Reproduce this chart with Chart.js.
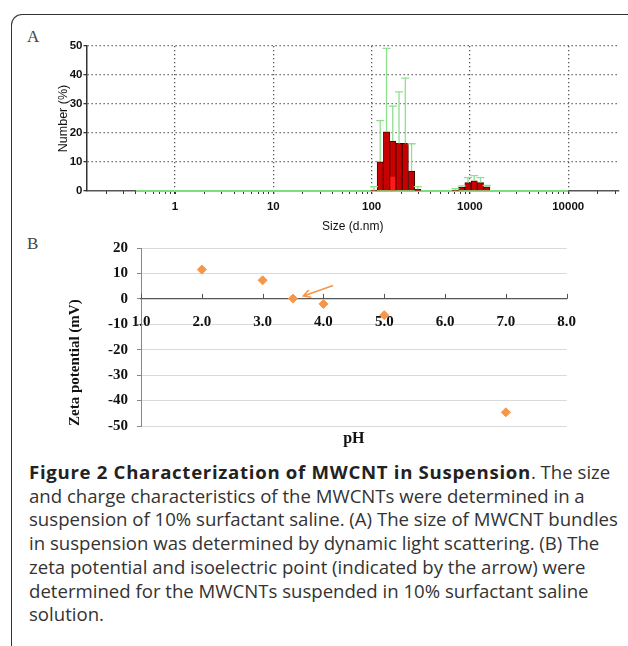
<!DOCTYPE html>
<html>
<head>
<meta charset="utf-8">
<script src="https://cdn.jsdelivr.net/npm/chart.js@4.4.1/dist/chart.umd.min.js"></script>
<style>
  body { margin: 0; background: #fff; width: 628px; height: 646px; overflow: hidden; position: relative; }
  .frame { position: absolute; left: 11px; top: 14px; width: 700px; height: 700px;
    border-top: 1.5px solid #333; border-left: 1.5px solid #333; border-top-left-radius: 11px; }
  .panel { position: absolute; left: 0; width: 628px; }
  #boxA { top: 0; height: 240px; }
  #boxB { top: 230px; height: 220px; }
  .tag { position: absolute; font-family: "Liberation Serif", serif; font-size: 17px; color: #444; }
  .caption { position: absolute; left: 29px; top: 460px; font-family: "Open Sans", sans-serif;
    font-size: 18.6px; line-height: 23.7px; color: #333; white-space: nowrap; }
  .caption b { color: #222; letter-spacing: 0.7px; }
</style>
</head>
<body>
<div class="frame"></div>
<div class="tag" style="left:27px; top:27px;">A</div>
<div class="tag" style="left:27px; top:234px;">B</div>
<div class="panel" id="boxA"><canvas id="chartA"></canvas></div>
<div class="panel" id="boxB"><canvas id="chartB"></canvas></div>
<div class="caption">
  <div><b>Figure 2 Characterization of MWCNT in Suspension</b>. The size</div>
  <div>and charge characteristics of the MWCNTs were determined in a</div>
  <div>suspension of 10% surfactant saline. (A) The size of MWCNT bundles</div>
  <div>in suspension was determined by dynamic light scattering. (B) The</div>
  <div>zeta potential and isoelectric point (indicated by the arrow) were</div>
  <div>determined for the MWCNTs suspended in 10% surfactant saline</div>
  <div>solution.</div>
</div>
<script>
// panel A - size distribution (DLS)
const sizeBins = [105.7, 122.4, 141.8, 164.2, 190.1, 220.2, 255.0, 295.3, 712.4, 825.0, 955.4, 1106, 1281, 1484];
const numberPct = [0.3, 10.1, 20.4, 17.2, 16.4, 16.4, 6.9, 0.6, 0.3, 1.3, 2.9, 3.5, 2.9, 1.4];
const numberErr = [1.5, 24.3, 49.2, 29.3, 34.2, 38.9, 16.3, 1.5, 0.8, 1.8, 4.6, 5.3, 4.6, 1.9];
const selectedBin = [164.2];
const selectedPct = [4.9];
const sizeRange = [0.4, 10000];
const sizeLabels = [1, 10, 100, 1000, 10000];

// panel B - zeta potential vs pH
const phValues = [2.0, 3.0, 3.5, 4.0, 5.0, 7.0];
const zetaMv = [11.5, 7.3, 0.1, -2.0, -6.4, -44.6];
const phTicks = [1, 2, 3, 4, 5, 6, 7, 8];
const zetaTicks = [-50, -40, -30, -20, -10, 0, 10, 20];
const iepArrow = [{ x: 4.16, y: 5.3 }, { x: 3.67, y: 1.1 }];

const sansFont = 'Arial, "Liberation Sans", sans-serif';
const serifFont = '"Times New Roman", "Liberation Serif", serif';
const sizeMin = 0.1258, sizeMax = 32870;

// minor tick marks 2..9 of each decade
const minorTicks = [];
for (let d = 0.1; d < 1e5; d *= 10) {
  for (let m = 1; m < 10; m++) {
    const v = +(d * m).toPrecision(3);
    if (v >= sizeMin && v <= sizeMax) minorTicks.push(v);
  }
}

const errorBars = {
  id: "errorBars",
  afterDatasetsDraw(chart) {
    const { ctx, scales: { x, y } } = chart;
    ctx.save();
    ctx.strokeStyle = "#8ee08e";
    ctx.lineWidth = 1.3;
    sizeBins.forEach((s, i) => {
      const px = x.getPixelForValue(s);
      const top = y.getPixelForValue(numberErr[i]);
      const base = y.getPixelForValue(numberPct[i]);
      ctx.beginPath();
      ctx.moveTo(px, base);
      ctx.lineTo(px, top);
      ctx.moveTo(px - 4, top);
      ctx.lineTo(px + 4, top);
      ctx.stroke();
    });
    ctx.restore();
  },
};

new Chart(document.getElementById("chartA"), {
  type: "bar",
  data: {
    datasets: [
      {
        data: selectedBin.map((s, i) => ({ x: s, y: selectedPct[i] })),
        backgroundColor: "#ff1a1a",
        borderWidth: 0,
        grouped: false,
        barPercentage: 0.8,
        categoryPercentage: 1,
        order: 1,
      },
      {
        data: sizeBins.map((s, i) => ({ x: s, y: numberPct[i] })),
        backgroundColor: "#c80000",
        borderColor: "#4a0000",
        borderWidth: 1,
        grouped: false,
        barPercentage: 1,
        categoryPercentage: 1,
        order: 2,
      },
      {
        type: "line",
        data: sizeRange.map((s) => ({ x: s, y: 0 })),
        borderColor: "#80dc80",
        borderWidth: 2,
        pointRadius: 0,
        clip: false,
        order: 3,
      },
    ],
  },
  options: {
    responsive: true,
    maintainAspectRatio: false,
    animation: false,
    layout: { padding: { top: 46, left: 53, right: 9, bottom: 0 } },
    plugins: { legend: { display: false }, tooltip: { enabled: false } },
    scales: {
      x: {
        type: "logarithmic",
        min: sizeMin,
        max: sizeMax,
        bounds: "data",
        offset: false,
        afterBuildTicks: (s) => { s.ticks = sizeLabels.map((v) => ({ value: v })); },
        afterFit: (s) => { s.height = 49; },
        ticks: {
          autoSkip: false,
          maxRotation: 0,
          padding: 6,
          color: "#111",
          font: { family: sansFont, size: 11.5, weight: "bold" },
          callback: (v) => String(v),
        },
        grid: { offset: false, color: "#555", lineWidth: 1.3, tickColor: "#333", tickLength: 3 },
        border: { color: "#555", width: 1.5, dash: [1.3, 2.7] },
        title: {
          display: true,
          text: "Size (d.nm)",
          color: "#111",
          font: { family: sansFont, size: 12 },
          padding: { top: 0, bottom: 6 },
        },
      },
      xMinor: {
        type: "logarithmic",
        min: sizeMin,
        max: sizeMax,
        bounds: "data",
        offset: false,
        position: { y: 0 },
        afterBuildTicks: (s) => { s.ticks = minorTicks.map((v) => ({ value: v })); },
        ticks: { display: false, autoSkip: false },
        grid: { offset: false, drawOnChartArea: false, tickColor: "#333", tickLength: 3 },
        border: { display: false },
      },
      y: {
        min: 0,
        max: 50,
        ticks: {
          stepSize: 5,
          padding: 1,
          color: "#111",
          font: { family: sansFont, size: 11.5, weight: "bold" },
          callback: (v) => (v % 10 === 0 ? v : ""),
        },
        afterFit: (s) => { s.width = 33.5; },
        grid: {
          color: (c) => (c.tick.value % 10 === 0 && c.tick.value > 0 ? "#555" : "rgba(0,0,0,0)"),
          lineWidth: 1.3,
          tickColor: "#333",
          tickLength: 3,
        },
        border: { color: "#333", width: 1.5, dash: [1.3, 2.7] },
        title: {
          display: true,
          text: "Number (%)",
          color: "#111",
          font: { family: sansFont, size: 12.5 },
          padding: { top: 3, bottom: 4 },
        },
      },
    },
  },
  plugins: [errorBars],
});

const phMarks = {
  id: "phMarks",
  afterDraw(chart) {
    const { ctx, scales: { x, x0, y } } = chart;
    const y0 = y.getPixelForValue(0);
    ctx.save();
    ctx.strokeStyle = "#555";
    ctx.lineWidth = 1;
    phTicks.forEach((t) => {
      const px = Math.round(x0.getPixelForValue(t)) + 0.5;
      ctx.beginPath();
      ctx.moveTo(px, y0);
      ctx.lineTo(px, y0 - 5);
      ctx.stroke();
    });
    // arrow pointing at the isoelectric point
    const [a, b] = iepArrow;
    const x1 = x.getPixelForValue(a.x), y1 = y.getPixelForValue(a.y);
    const x2 = x.getPixelForValue(b.x), y2 = y.getPixelForValue(b.y);
    const ang = Math.atan2(y2 - y1, x2 - x1);
    ctx.strokeStyle = "#f79646";
    ctx.lineWidth = 1.6;
    ctx.beginPath();
    ctx.moveTo(x1, y1);
    ctx.lineTo(x2, y2);
    ctx.moveTo(x2 - 8 * Math.cos(ang - 0.5), y2 - 8 * Math.sin(ang - 0.5));
    ctx.lineTo(x2, y2);
    ctx.lineTo(x2 - 8 * Math.cos(ang + 0.5), y2 - 8 * Math.sin(ang + 0.5));
    ctx.stroke();
    ctx.restore();
  },
};

new Chart(document.getElementById("chartB"), {
  type: "scatter",
  data: {
    datasets: [
      {
        data: phValues.map((p, i) => ({ x: p, y: zetaMv[i] })),
        pointStyle: "rectRot",
        pointRadius: 4.5,
        backgroundColor: "#f79646",
        borderColor: "#f79646",
        clip: false,
      },
    ],
  },
  options: {
    responsive: true,
    maintainAspectRatio: false,
    animation: false,
    layout: { padding: { top: 17.7, left: 62.5, right: 61.3, bottom: 2 } },
    plugins: { legend: { display: false }, tooltip: { enabled: false } },
    scales: {
      x: {
        type: "linear",
        min: 1,
        max: 8,
        position: "bottom",
        ticks: { display: false },
        grid: { display: false },
        border: { display: false },
        afterFit: (s) => { s.height = 22; },
        title: {
          display: true,
          text: "pH",
          color: "#111",
          font: { family: serifFont, size: 16, weight: "bold" },
          padding: { top: 0, bottom: 0 },
        },
      },
      x0: {
        type: "linear",
        min: 1,
        max: 8,
        position: { y: 0 },
        afterBuildTicks: (s) => { s.ticks = phTicks.map((v) => ({ value: v })); },
        ticks: {
          autoSkip: false,
          maxRotation: 0,
          padding: 14,
          color: "#111",
          font: { family: serifFont, size: 15, weight: "bold" },
          callback: (v) => v.toFixed(1),
        },
        grid: { drawOnChartArea: false, drawTicks: false },
        border: { color: "#555", width: 1.2 },
      },
      y: {
        min: -50,
        max: 20,
        afterBuildTicks: (s) => { s.ticks = zetaTicks.map((v) => ({ value: v })); },
        afterFit: (s) => { s.width = 78.5; },
        ticks: {
          padding: 9,
          color: "#111",
          font: { family: serifFont, size: 15, weight: "bold" },
        },
        grid: {
          color: (c) => (c.tick.value === 0 ? "rgba(0,0,0,0)" : "#d9d9d9"),
          tickColor: "#888",
          tickLength: 4,
        },
        border: { color: "#888" },
        title: {
          display: true,
          text: "Zeta potential (mV)",
          align: "start",
          color: "#111",
          font: { family: serifFont, size: 15, weight: "bold" },
        },
      },
    },
  },
  plugins: [phMarks],
});
</script>
</body>
</html>
